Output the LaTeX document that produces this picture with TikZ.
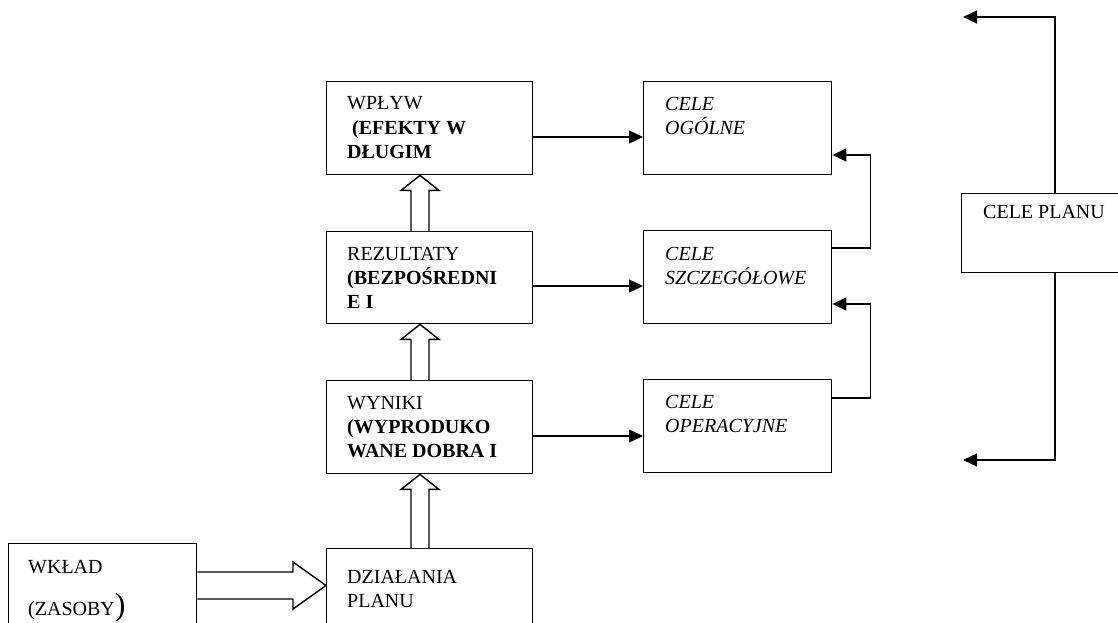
\documentclass[tikz,border=0pt]{standalone}
\usepackage{fontspec}
\setmainfont{Liberation Serif}
\usetikzlibrary{arrows.meta,calc}
\begin{document}
\begin{tikzpicture}[x=1pt,y=-1pt,
  box/.style={draw,line width=1.4pt,rectangle,inner sep=0pt,anchor=north west},
  txt/.style={inner sep=0pt,anchor=base west,font=\fontsize{20}{24}\selectfont},
  itx/.style={txt,font=\fontsize{20}{24}\selectfont\itshape},
  arr/.style={line width=1.4pt,-{Triangle[length=14pt,width=13pt]}},
  hollow/.style={draw,line width=1.4pt,fill=white,line join=miter}]
\useasboundingbox (0,0) rectangle (1118,622);
% left column
\node[box,minimum width=206,minimum height=93] (b1) at (326,81) {};
\node[box,minimum width=206,minimum height=92] (b2) at (326,231) {};
\node[box,minimum width=206,minimum height=93] (b3) at (326,380) {};
\node[box,minimum width=206,minimum height=100] (b4) at (326,548) {};
\node[box,minimum width=188,minimum height=100] (w) at (8,543) {};
% right column
\node[box,minimum width=188,minimum height=93] (c1) at (643,81) {};
\node[box,minimum width=188,minimum height=93] (c2) at (643,230) {};
\node[box,minimum width=188,minimum height=93] (c3) at (643,379) {};
\node[box,minimum width=170,minimum height=79] (p) at (961,193) {};
% texts
\node[txt] (t1a) at (347,109) {WPŁYW};
\node[txt] (t1b) at (347,134) {\textbf{\ (EFEKTY W}};
\node[txt] (t1c) at (347,158) {\textbf{DŁUGIM}};
\node[txt] (t2a) at (347,260) {REZULTATY};
\node[txt] (t2b) at (347,284) {\textbf{(BEZPOŚREDNI}};
\node[txt] (t2c) at (347,308) {\textbf{E I}};
\node[txt] (t3a) at (347,409) {WYNIKI};
\node[txt] (t3b) at (347,433) {\textbf{(WYPRODUKO}};
\node[txt] (t3c) at (347,457) {\textbf{WANE DOBRA I}};
\node[txt] (t4a) at (347,583) {DZIAŁANIA};
\node[txt] (t4b) at (347,607) {PLANU};
\node[txt] (twa) at (28,573) {WKŁAD};
\node[txt] (twb) at (28,615) {(ZASOBY{\fontsize{32}{32}\selectfont)}};
\node[itx] (s1a) at (665,110) {CELE};
\node[itx] (s1b) at (665,134) {OGÓLNE};
\node[itx] (s2a) at (665,260) {CELE};
\node[itx] (s2b) at (665,284) {SZCZEGÓŁOWE};
\node[itx] (s3a) at (665,408) {CELE};
\node[itx] (s3b) at (665,432) {OPERACYJNE};
\node[txt] (pa) at (983,218) {CELE PLANU};
% horizontal arrows
\draw[arr] ([yshift=-56pt]b1.north east) -- ([yshift=-56pt]c1.north west);
\draw[arr] ([yshift=-55pt]b2.north east) -- ([yshift=-56pt]c2.north west);
\draw[arr] ([yshift=-56pt]b3.north east) -- ([yshift=-57pt]c3.north west);
% side feedback
\draw[arr] ([yshift=-18pt]c2.north east) -- ++(38,0) |- ([yshift=-74pt]c1.north east);
\draw[arr] ([yshift=-19pt]c3.north east) -- ++(38,0) |- ([yshift=-74pt]c2.north east);
% plan arrows
\coordinate (pt) at (963,17);
\coordinate (pb) at (963,460);
\draw[arr] ([xshift=94pt]p.north west) |- (pt);
\draw[arr] ([xshift=94pt]p.south west) |- (pb);
% hollow vertical arrows
\foreach \lo/\hi in {b2/b1,b3/b2,b4/b3}{
  \draw[hollow] ([xshift=85pt]\lo.north west) -- ([xshift=85pt,yshift=-15pt]\hi.south west)
    -- ([xshift=75pt,yshift=-15pt]\hi.south west) -- ([xshift=94pt]\hi.south west)
    -- ([xshift=113pt,yshift=-15pt]\hi.south west) -- ([xshift=103pt,yshift=-15pt]\hi.south west)
    -- ([xshift=103pt]\lo.north west);
}
% hollow horizontal arrow
\draw[hollow] ([yshift=-29pt]w.north east) -- (293,572) -- (293,562) -- (326,585.5)
  -- (293,609) -- (293,599) -- ([yshift=-56pt]w.north east);
\end{tikzpicture}
\end{document}
